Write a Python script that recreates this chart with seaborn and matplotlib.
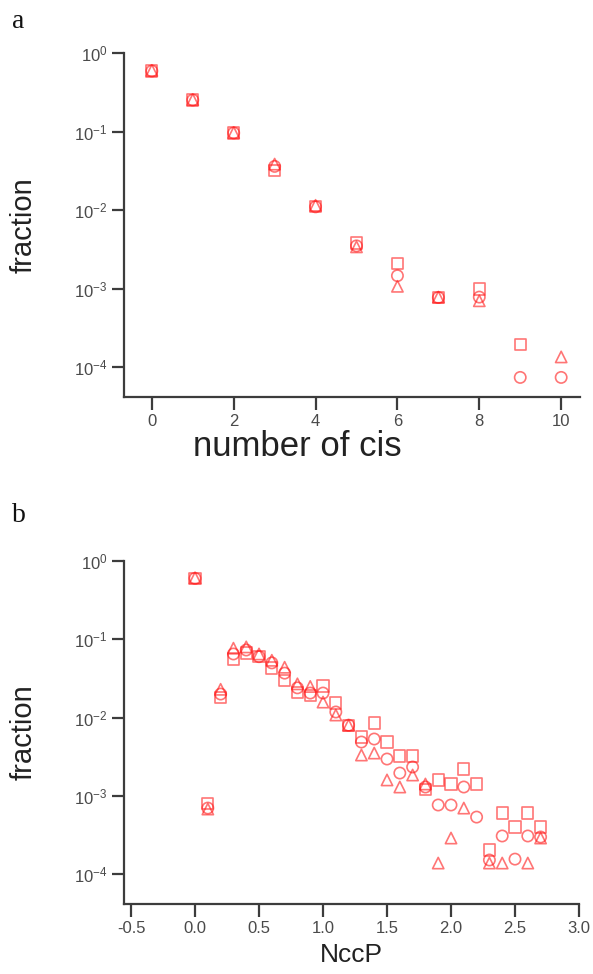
import numpy as np
import pandas as pd
import matplotlib
matplotlib.use("Agg")
import matplotlib.pyplot as plt
import seaborn as sns
from matplotlib.ticker import FixedLocator, FixedFormatter, NullLocator

# ---------------- data ----------------
# panel a: number of cis
cis_x = [0, 1, 2, 3, 4, 5, 6, 7, 8, 9]
cis_square = [0.59, 0.252, 0.096, 0.032, 0.011, 0.0038, 0.00211, 0.00077, 0.00099, 0.000196]
cis_circle_x = [0, 1, 2, 3, 4, 5, 6, 7, 8, 9, 10]
cis_circle = [0.59, 0.252, 0.096, 0.036, 0.011, 0.0035, 0.00146, 0.00077, 0.00078, 0.000074, 0.000074]
cis_tri_x = [0, 1, 2, 3, 4, 5, 6, 7, 8, 10]
cis_triangle = [0.60, 0.255, 0.097, 0.0385, 0.0115, 0.0034, 0.00107, 0.00078, 0.00070, 0.000135]

# panel b: NccP
ncc_sq_x = [0.0, 0.1, 0.2, 0.3, 0.4, 0.5, 0.6, 0.7, 0.8, 0.9, 1.0, 1.1, 1.2, 1.3,
            1.4, 1.5, 1.6, 1.7, 1.8, 1.9, 2.0, 2.1, 2.2, 2.3, 2.4, 2.5, 2.6, 2.7]
ncc_square = [0.60, 0.0008, 0.018, 0.056, 0.067, 0.060, 0.043, 0.030, 0.021, 0.019,
              0.0253, 0.0154, 0.0080, 0.00565, 0.00853, 0.00488, 0.00323, 0.00323,
              0.00122, 0.00160, 0.00142, 0.00221, 0.00142, 0.000204, 0.000605,
              0.000401, 0.000605, 0.000401]
ncc_ci_x = [0.0, 0.1, 0.2, 0.3, 0.4, 0.5, 0.6, 0.7, 0.8, 0.9, 1.0, 1.1, 1.2, 1.3,
            1.4, 1.5, 1.6, 1.7, 1.8, 1.9, 2.0, 2.1, 2.2, 2.3, 2.4, 2.5, 2.6, 2.7]
ncc_circle = [0.60, 0.0007, 0.020, 0.065, 0.073, 0.060, 0.050, 0.037, 0.024, 0.0206,
              0.0206, 0.0118, 0.0080, 0.00488, 0.00533, 0.00296, 0.00196, 0.00234,
              0.00130, 0.000766, 0.000766, 0.00130, 0.000537, 0.000152, 0.000308,
              0.000156, 0.000308, 0.000299]
ncc_tr_x = [0.0, 0.1, 0.2, 0.3, 0.4, 0.5, 0.6, 0.7, 0.8, 0.9, 1.0, 1.1, 1.2, 1.3,
            1.4, 1.5, 1.6, 1.7, 1.8, 1.9, 2.0, 2.1, 2.3, 2.4, 2.6, 2.7]
ncc_triangle = [0.61, 0.00068, 0.023, 0.077, 0.080, 0.065, 0.054, 0.044, 0.027, 0.025,
                0.0158, 0.0108, 0.0080, 0.00333, 0.00353, 0.00160, 0.00130, 0.00185,
                0.00142, 0.000139, 0.00029, 0.00070, 0.000139, 0.000139, 0.000139,
                0.00029]

ytick_vals = [1e-4, 1e-3, 1e-2, 1e-1, 1e0]
ytick_labels = ['10$^{-4}$', '10$^{-3}$', '10$^{-2}$', '10$^{-1}$', '10$^{0}$']
xa_ticks = [0, 2, 4, 6, 8, 10]
xa_labels = ['0', '2', '4', '6', '8', '10']
xb_ticks = [-0.5, 0.0, 0.5, 1.0, 1.5, 2.0, 2.5, 3.0]
xb_labels = ['-0.5', '0.0', '0.5', '1.0', '1.5', '2.0', '2.5', '3.0']

# ---------------- style ----------------
sns.set_theme(style="white")
plt.rcParams['font.family'] = ['Liberation Sans', 'DejaVu Sans']
plt.rcParams['mathtext.fontset'] = 'custom'
plt.rcParams['mathtext.rm'] = 'Liberation Sans'
plt.rcParams['mathtext.it'] = 'Liberation Sans:italic'
plt.rcParams['mathtext.default'] = 'regular'

AX_COL = '#3c3c3c'
TXT_COL = '#4a4a4a'
MK_COL = '#ff1a1a'

fig = plt.figure(figsize=(5.93, 9.74), dpi=100)
W, H = 593, 974
ax_a = fig.add_axes([124 / W, 1 - 397 / H, (580 - 124) / W, (397 - 53) / H])
ax_b = fig.add_axes([124 / W, 1 - 904 / H, (579 - 124) / W, (904 - 561) / H])


def draw(ax, series):
    for xs, ys, mk in series:
        df = pd.DataFrame({'x': xs, 'y': ys})
        sns.scatterplot(data=df, x='x', y='y', marker=mk, s=66,
                        facecolors='none', edgecolor=MK_COL, color=MK_COL,
                        linewidth=1.2, alpha=0.6, ax=ax, legend=False, zorder=3)


draw(ax_a, [(cis_x, cis_square, 's'), (cis_circle_x, cis_circle, 'o'),
            (cis_tri_x, cis_triangle, '^')])
draw(ax_b, [(ncc_sq_x, ncc_square, 's'), (ncc_ci_x, ncc_circle, 'o'),
            (ncc_tr_x, ncc_triangle, '^')])

for ax, xt, xl, xlim in [(ax_a, xa_ticks, xa_labels, (-0.68, 10.46)),
                         (ax_b, xb_ticks, xb_labels, (-0.555, 3.0))]:
    ax.set_yscale('log')
    ax.set_ylim(10 ** -4.38, 1.0)
    ax.set_xlim(*xlim)
    ax.yaxis.set_major_locator(FixedLocator(ytick_vals))
    ax.yaxis.set_major_formatter(FixedFormatter(ytick_labels))
    ax.yaxis.set_minor_locator(NullLocator())
    ax.xaxis.set_major_locator(FixedLocator(xt))
    ax.xaxis.set_major_formatter(FixedFormatter(xl))
    for s in ['top', 'right']:
        ax.spines[s].set_visible(False)
    for s in ['left', 'bottom']:
        ax.spines[s].set_color(AX_COL)
        ax.spines[s].set_linewidth(1.6)
    ax.tick_params(axis='both', which='major', direction='out', length=9,
                   width=1.6, color=AX_COL, labelcolor=TXT_COL, labelsize=12,
                   pad=3, left=True, bottom=True)
    ax.set_facecolor('white')

ax_a.set_ylabel('fraction', fontsize=21, color='#222222')
ax_a.yaxis.set_label_coords(-0.19, 0.5)
ax_a.set_xlabel('number of cis', fontsize=25, color='#222222', va='center')
ax_a.xaxis.set_label_coords(0.38, -0.145)

ax_b.set_ylabel('fraction', fontsize=21, color='#222222')
ax_b.yaxis.set_label_coords(-0.19, 0.5)
ax_b.set_xlabel('NccP', fontsize=19, color='#222222', va='center')
ax_b.xaxis.set_label_coords(0.5, -0.148)

fig.text(12 / W, 1 - 21 / H, 'a', fontsize=20, family='Liberation Serif',
         color='#111111', va='center', ha='left')
fig.text(12 / W, 1 - 516 / H, 'b', fontsize=20, family='Liberation Serif',
         color='#111111', va='center', ha='left')

fig.savefig('out.png', dpi=100, facecolor='white')
